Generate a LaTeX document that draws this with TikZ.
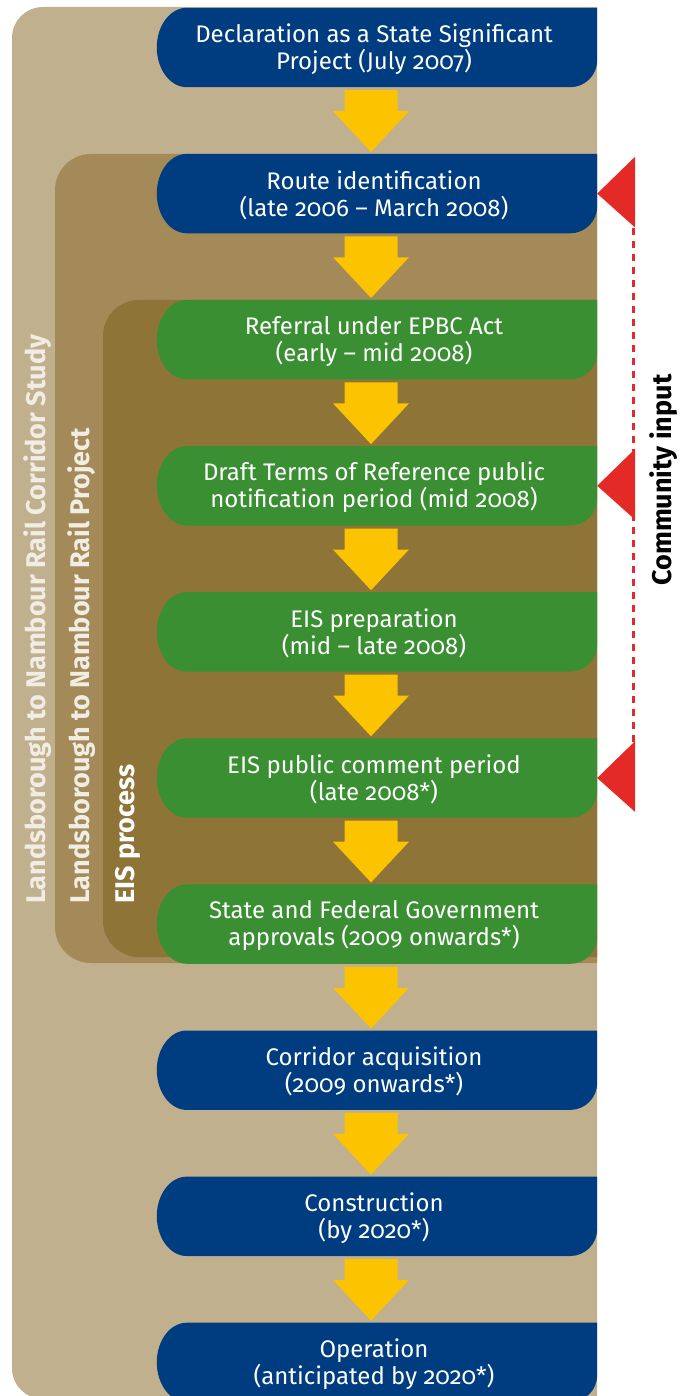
\documentclass[tikz,border=0pt]{standalone}
\usepackage{fontspec}
\setmainfont{Fira Sans}[Numbers=OldStyle]
\usetikzlibrary{calc}
\definecolor{tanA}{HTML}{C1B08D}
\definecolor{tanB}{HTML}{A38A58}
\definecolor{tanC}{HTML}{8F7438}
\definecolor{stepblue}{HTML}{003C80}
\definecolor{stepgreen}{HTML}{3A8F32}
\definecolor{arrowyellow}{HTML}{FBC300}
\definecolor{cired}{HTML}{E32A26}
\definecolor{labpale}{HTML}{F1EDE4}
\pgfdeclarelayer{back}\pgfdeclarelayer{mid}\pgfsetlayers{back,mid,main}
\tikzset{
  stepnode/.style={minimum width=440pt, minimum height=79pt, inner sep=0pt},
  steptext/.style={align=center, text=white, font=\fontsize{24}{27}\selectfont},
  vlabel/.style={rotate=90, anchor=west, inner sep=0pt,
    font=\bfseries\fontsize{27}{30}\selectfont},
  flowarrow/.style={fill=arrowyellow},
  citri/.style={fill=cired},
  ciline/.style={draw=cired, line width=3pt, dash pattern=on 7pt off 6pt},
}
\newcommand\stepfill[2]{%
  \begin{pgfonlayer}{mid}
  \fill[#2] let \p1=(#1.north west), \p2=(#1.south east) in
    (\x2,\y1) -- (\x1+30pt,\y1)
    .. controls (\x1+13.4pt,\y1) and (\x1,\y1-17.7pt) .. (\x1,\y1-39.5pt)
    .. controls (\x1,\y2+17.7pt) and (\x1+13.4pt,\y2) .. (\x1+30pt,\y2)
    -- (\x2-27pt,\y2)
    .. controls (\x2-12.1pt,\y2) and (\x2,\y2+12.1pt) .. (\x2,\y2+27pt) -- cycle;
  \end{pgfonlayer}}
\newcommand\flow[2]{%
  \fill[flowarrow] let \p1=(#1.south), \p2=(#2.north) in
    (\x1-32.5pt,\y1-3pt) -- (\x1+20.5pt,\y1-3pt) -- (\x1+20.5pt,\y1-24pt)
    -- (\x1+32pt,\y1-24pt) -- (\x1-6pt,\y2+2pt) -- (\x1-44pt,\y1-24pt)
    -- (\x1-32.5pt,\y1-24pt) -- cycle;}
\newcommand\leftround[6]{%
  \fill[#1] (#4,#3) -- (#2+#6,#3)
    .. controls (#2+0.448*#6,#3) and (#2,#3+0.448*#6) .. (#2,#3+#6)
    -- (#2,#5-#6)
    .. controls (#2,#5-0.448*#6) and (#2+0.448*#6,#5) .. (#2+#6,#5)
    -- (#4,#5) -- cycle;}
\newcommand\steplabel[2]{\node[steptext] (#1t) at ($(#1.center)+(-3,1.5)$) {#2};}
\begin{document}
\begin{tikzpicture}[x=1pt,y=-1pt]
\useasboundingbox (0,0) rectangle (690,1396);
\clip (0,0) rectangle (690,1396);
\begin{pgfonlayer}{back}
  \leftround{tanA}{12}{7}{597}{1399}{31}
  \leftround{tanB}{55}{154}{597}{963}{36}
  \leftround{tanC}{103}{300}{597}{957}{36}
\end{pgfonlayer}

\node[stepnode] (s0) at (377,47.5) {};
\node[stepnode] (s1) at (377,193.6) {};
\node[stepnode] (s2) at (377,339.7) {};
\node[stepnode] (s3) at (377,485.8) {};
\node[stepnode] (s4) at (377,631.9) {};
\node[stepnode] (s5) at (377,778.0) {};
\node[stepnode] (s6) at (377,924.1) {};
\node[stepnode] (s7) at (377,1070.2) {};
\node[stepnode] (s8) at (377,1216.3) {};
\node[stepnode] (s9) at (377,1362.4) {};

\steplabel{s0}{Declaration as a State Significant\\Project (July 2007)}
\steplabel{s1}{Route identification\\(late 2006 – March 2008)}
\steplabel{s2}{Referral under EPBC Act\\(early – mid 2008)}
\steplabel{s3}{Draft Terms of Reference public\\notification period (mid 2008)}
\steplabel{s4}{EIS preparation\\(mid – late 2008)}
\steplabel{s5}{EIS public comment period\\(late 2008*)}
\steplabel{s6}{State and Federal Government\\approvals (2009 onwards*)}
\steplabel{s7}{Corridor acquisition\\(2009 onwards*)}
\steplabel{s8}{Construction\\(by 2020*)}
\steplabel{s9}{Operation\\(anticipated by 2020*)}

\stepfill{s0}{stepblue}
\stepfill{s1}{stepblue}
\stepfill{s2}{stepgreen}
\stepfill{s3}{stepgreen}
\stepfill{s4}{stepgreen}
\stepfill{s5}{stepgreen}
\stepfill{s6}{stepgreen}
\stepfill{s7}{stepblue}
\stepfill{s8}{stepblue}
\stepfill{s9}{stepblue}

\flow{s0}{s1}
\flow{s1}{s2}
\flow{s2}{s3}
\flow{s3}{s4}
\flow{s4}{s5}
\flow{s5}{s6}
\flow{s6}{s7}
\flow{s7}{s8}
\flow{s8}{s9}

\coordinate (ctop) at ($(s1.east)+(36,34)$);
\coordinate (cbot) at ($(s5.east)+(36,34)$);
\draw[ciline] (ctop) -- (cbot);
\fill[citri] (s1.east) -- ++(38,-37) -- ++(0,71) -- cycle;
\fill[citri] (s3.east) -- ++(38,-37) -- ++(0,71) -- cycle;
\fill[citri] (s5.east) -- ++(38,-37) -- ++(0,71) -- cycle;

\node[vlabel, text=labpale] (lstudy) at (38,904) {Landsborough to Nambour Rail Corridor Study};
\node[vlabel, text=labpale] (lproj) at (82,904) {Landsborough to Nambour Rail Project};
\node[vlabel, text=white] (leis) at (128,904) {EIS process};
\node[rotate=90, inner sep=0pt, font=\bfseries\fontsize{27}{30}\selectfont] (lci) at (664,480) {Community input};
\end{tikzpicture}
\end{document}
